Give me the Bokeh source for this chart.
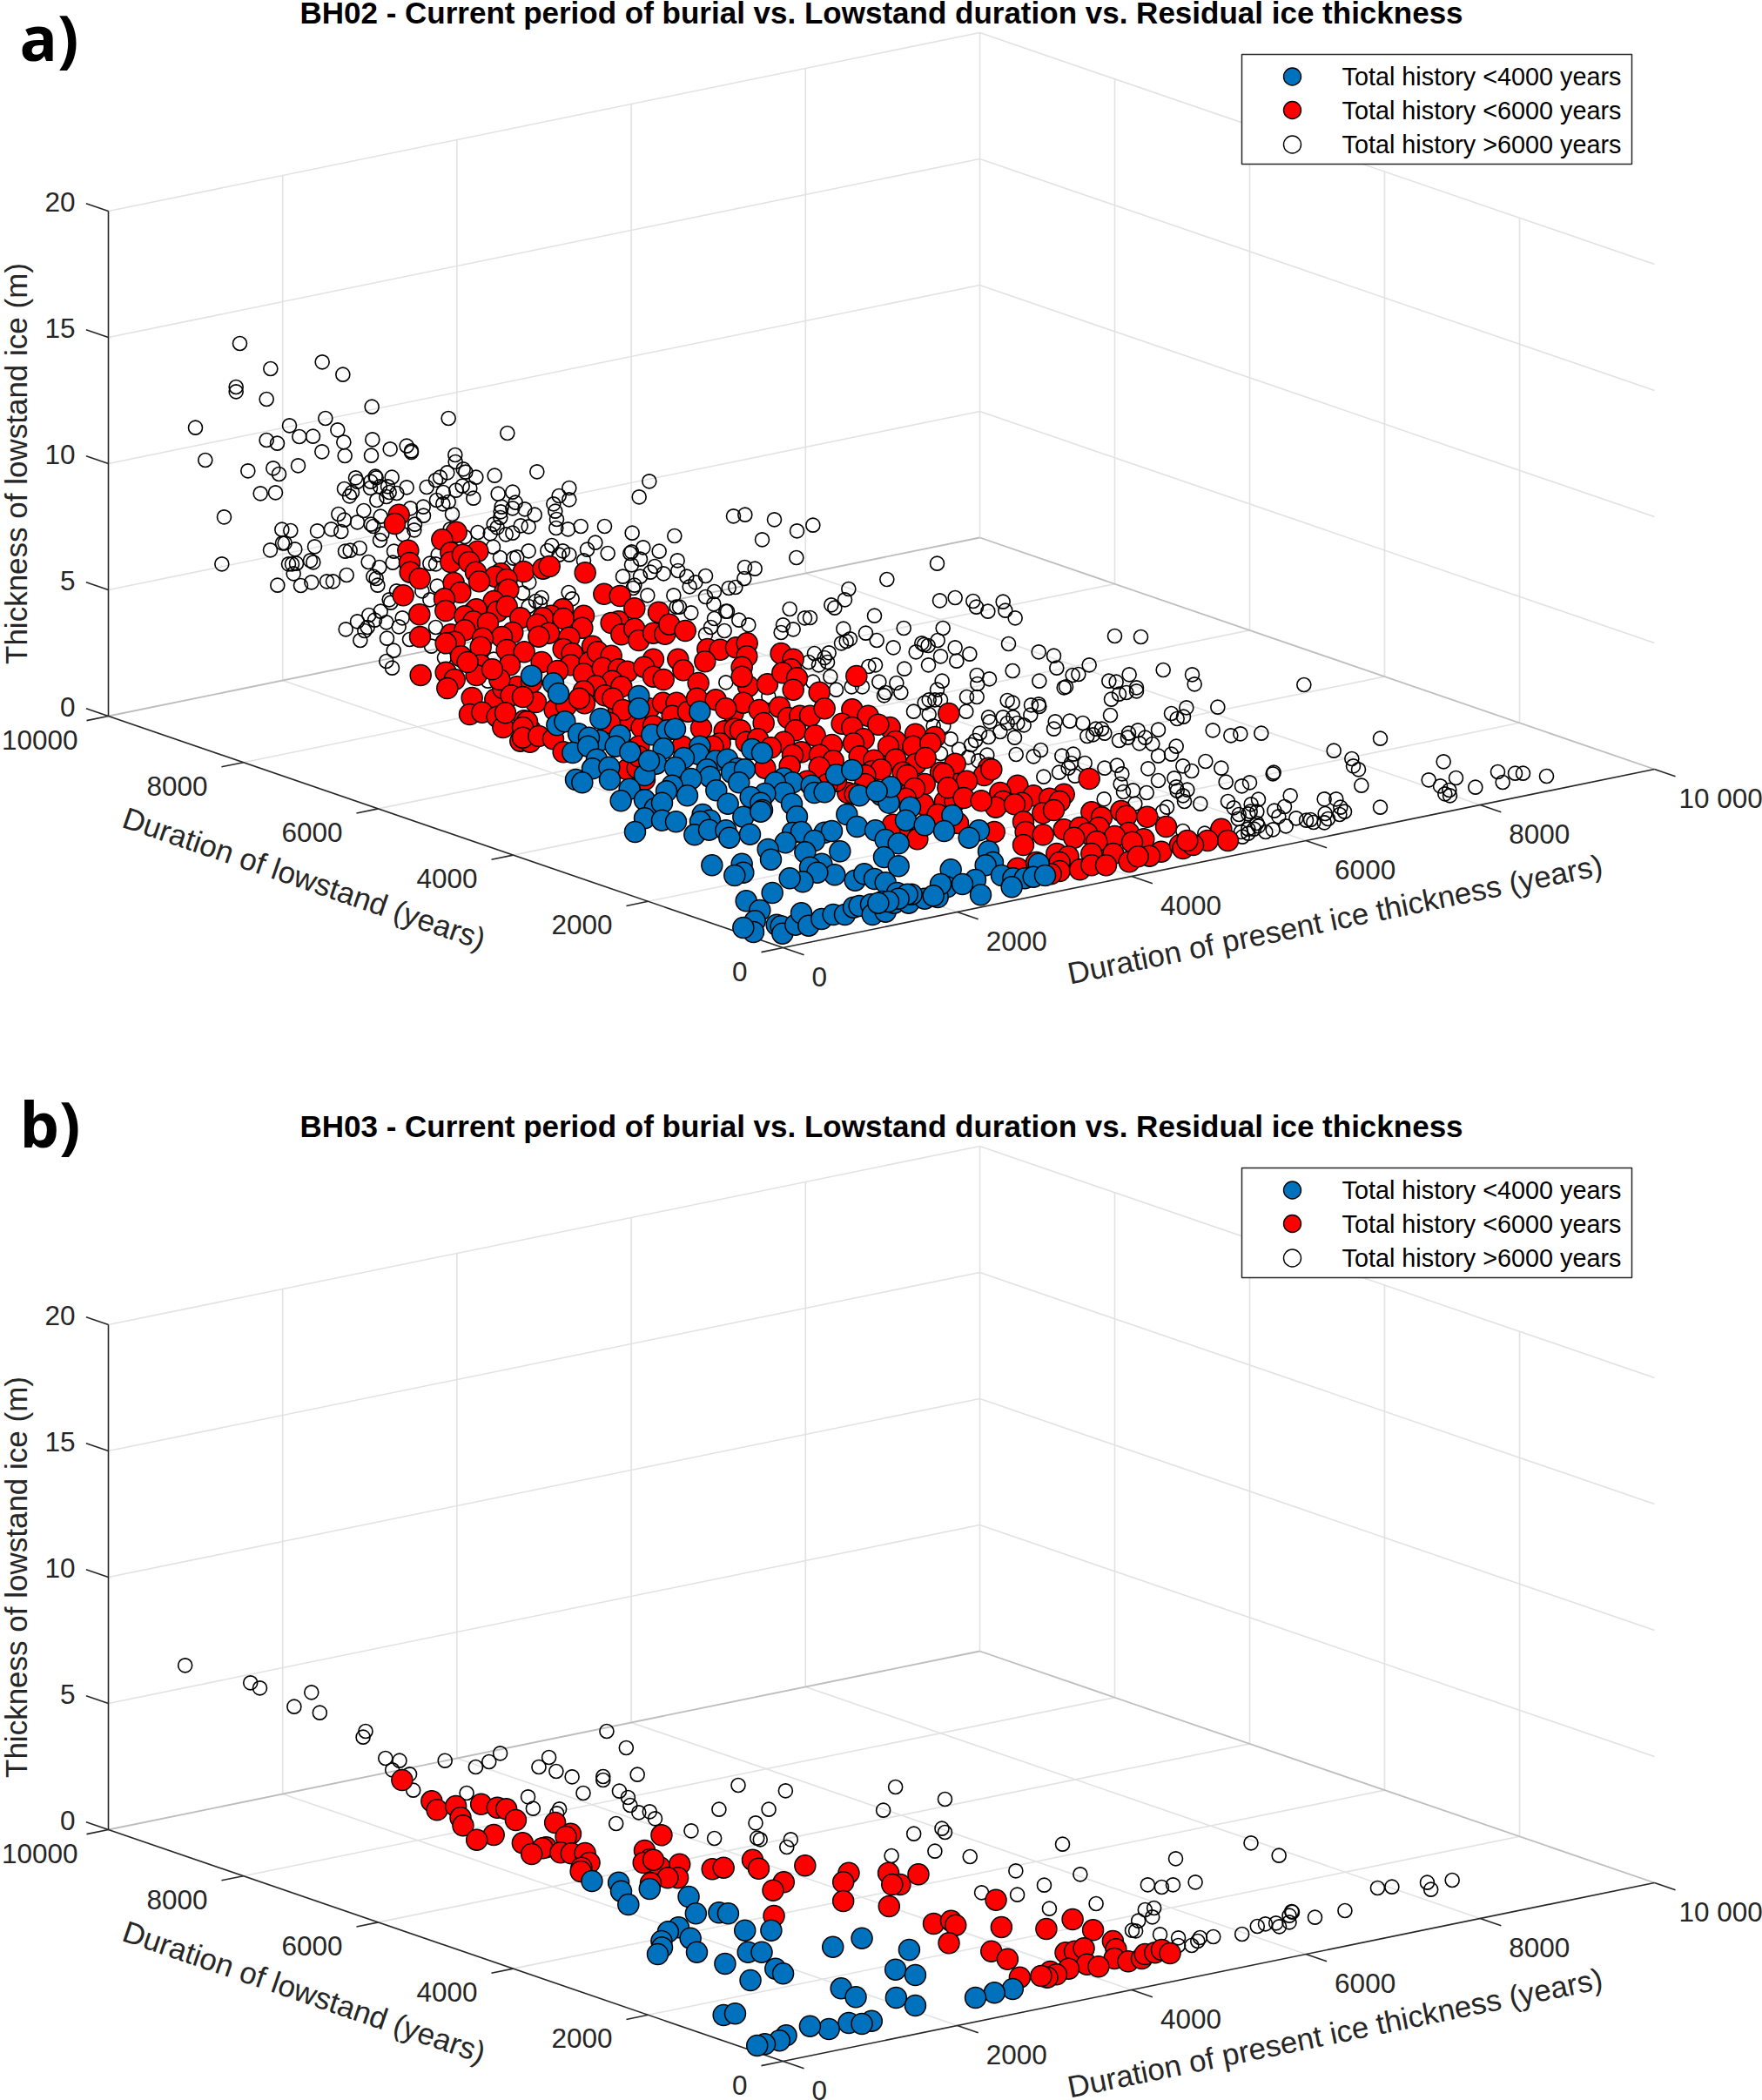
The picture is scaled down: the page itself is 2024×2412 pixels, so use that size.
from bokeh.plotting import figure
from bokeh.layouts import column
from bokeh.models import Range1d
from bokeh.core.properties import value
from bokeh.embed import file_html
from bokeh.resources import INLINE

# Axis ticks of the 3D box (value units)
x_ticks = [0, 2000, 4000, 6000, 8000, 10000]
x_tick_labels = ["0", "2000", "4000", "6000", "8000", "10 000"]
y_ticks = [0, 2000, 4000, 6000, 8000, 10000]
y_tick_labels = ["0", "2000", "4000", "6000", "8000", "10000"]
z_ticks = [0, 5, 10, 15, 20]
z_tick_labels = ["0", "5", "10", "15", "20"]
series_names = ["Total history <4000 years", "Total history <6000 years", "Total history >6000 years"]
titles = ["BH02 - Current period of burial vs. Lowstand duration vs. Residual ice thickness",
          "BH03 - Current period of burial vs. Lowstand duration vs. Residual ice thickness"]
panel_letters = ["a)", "b)"]

# The reference is a 3D view: a point's three values cannot be recovered from the picture,
# so points are kept as read in the plane of the view, as (origin_x, origin_y, scale_x, scale_y, readings).
a_white_1 = (180, 370, 3, 3, [(285,72),(391,159),(569,136),(640,179),(272,222),(272,238),(377,264),(740,290),(580,330),(1004,330),(132,362),(456,355),(622,370),(377,405),(414,416),(490,393),(537,392),(643,412),(742,403),(1207,381),(166,474),(568,445),(647,459),(738,458),(803,436),(860,425),(876,442),(876,447),(1027,456),(1028,480),(313,511),(400,502),(420,522),(486,493),(1309,514),(1163,527),(356,589),(408,586),(684,535),(690,548),(736,548),(752,530),(755,535),(809,533),(1000,517),(975,533),(960,543),(1055,505),(1063,515),(1099,533),(645,573),(672,585),(663,598),(735,570),(768,565),(795,565),(790,600),(800,585),(826,588),(860,568),(757,612),(929,567),(986,585),(1030,578),(1052,563),(1078,571),(1090,605),(1175,590),(1225,584),(1420,570),(1385,597),(1420,610),(963,612),(985,625),(1004,618),(1235,620),(1366,625),(1187,635),(1225,640),(1267,643),(1372,650),(1184,652),(1301,662),(231,670),(625,660),(712,648),(645,680),(873,640),(917,635),(918,665),(1017,660),(770,668),(690,688),(737,695),(745,702),(888,695),(886,715),(1183,672),(1377,678),(1160,695),(1172,706),(1253,700),(1280,703),(1375,708),(1416,712),(1460,702),(430,713),(460,717),(552,718),(600,712),(634,720),(775,728),(848,730),(1105,723),(1148,727),(1202,730),(1225,725),(440,760),(432,760),(543,772),(768,750),(1010,712),(1060,738),(390,784),(475,781),(698,777),(648,788),(665,785),(816,788),(1158,773),(1280,787),(1345,786),(1360,768),(1398,787),(1482,782),(1240,808),(1228,812),(1182,810),(1420,800),(1385,800),(223,832),(453,832),(465,832),(480,830),(528,820),(538,826),(728,825),(812,827),(766,843),(968,800),(940,830),(960,832),(470,865),(653,870),(745,875),(755,882),(760,905),(415,905),(495,906),(532,895),(585,892),(606,892),(965,908),(825,925),(913,925),(800,955),(805,965),(1260,932),(1282,895),(1418,930),(1430,952),(1325,948),(1305,960),(1320,968),(940,955),(1280,978),(770,995),(730,1008),(750,1025),(690,1030),(790,1033),(845,1018),(833,1048),(725,1050),(715,1062),(650,1057),(960,1050),(700,1095),(792,1088),(870,1092),(815,1130),(945,1115),(790,1167),(990,1155),(810,1190)])
a_white_2 = (600, 600, 3, 3, [(20,15),(113,18),(155,20),(200,15),(282,12),(377,35),(523,45),(825,58),(945,28),(1000,8),(943,120),(1428,140),(1255,195),(100,75),(80,95),(135,95),(155,110),(225,90),(250,68),(293,105),(375,100),(370,105),(415,85),(470,98),(405,125),(533,130),(210,130),(375,145),(455,150),(535,165),(345,185),(405,185),(440,170),(485,175),(630,183),(565,185),(595,205),(575,220),(765,153),(800,158),(763,192),(710,225),(733,222),(630,255),(660,237),(520,250),(430,250),(380,225),(385,215),(1123,228),(1110,265),(1437,268),(1490,258),(658,280),(540,290),(530,290),(580,310),(700,305),(705,305),(1063,283),(1075,293),(920,297),(1212,320),(660,330),(745,335),(778,352),(972,328),(990,327),(897,352),(1313,363),(1448,363),(648,360),(695,372),(630,385),(890,378),(932,367),(1105,365),(1182,380),(1098,415),(1115,408),(1128,400),(1220,405),(1430,405),(1277,430),(1355,445),(1375,415),(1383,420),(1440,460),(1490,430),(1005,450),(1055,448),(1040,465),(985,480),(1020,490),(1050,480),(1192,495),(1215,490),(1315,503),(1398,490),(1060,530),(1000,548),(1080,575),(1133,565),(1170,565),(1228,548),(1288,552),(1303,585),(1250,585),(1245,595),(1445,545),(1428,575),(1420,610),(1385,620),(1347,650),(1400,660),(1475,745),(1440,795),(847,598),(700,550)])
a_white_3 = (1000, 640, 3, 3, [(230,20),(55,75),(237,150),(290,137),(352,150),(363,170),(403,185),(455,152),(463,182),(497,208),(15,198),(113,242),(248,242),(20,285),(77,308),(155,323),(175,297),(197,303),(230,287),(285,305),(474,297),(340,332),(578,325),(630,338),(640,380),(840,270),(930,273),(242,337),(295,356),(198,370),(117,380),(17,370),(752,370),(488,390),(695,405),(715,402),(365,405),(408,418),(367,435),(1007,387),(1107,403),(1115,436),(1492,438),(890,403),(580,425),(820,425),(845,428),(672,445),(665,448),(915,448),(855,470),(880,465),(915,460),(25,430),(85,435),(45,470),(103,463),(245,425),(228,458),(200,490),(240,490),(330,480),(365,480),(470,492),(488,500),(828,488),(552,508),(578,505),(580,513),(147,527),(205,540),(328,530),(550,542),(825,543),(1195,515),(1087,517),(1035,537),(1055,555),(1077,548),(405,550),(410,565),(455,550),(490,550),(470,570),(505,570),(527,577),(635,565),(630,590),(685,563),(730,570),(1178,595),(1240,613),(1273,607),(1345,605),(215,580),(445,600),(495,620),(375,605),(405,618),(250,580),(275,622),(360,630),(345,645),(775,590),(795,590),(745,615),(765,610),(805,605),(888,605),(855,630),(885,620),(920,595),(925,640),(945,620),(970,642),(990,593),(303,660),(400,680),(585,663),(560,685),(500,678),(1052,650),(1035,677),(990,683),(1153,702),(658,683),(697,677),(690,708),(240,680),(335,688),(370,700),(737,708),(805,725),(848,716),(865,745),(955,727),(1075,718),(1105,735),(1207,725),(1388,740),(1385,745),(648,740),(680,725),(703,752),(595,755),(990,768),(1045,760),(1223,773),(860,780),(1052,790),(1305,775),(1278,787),(870,807),(903,802),(1090,800),(950,810),(1055,803),(1075,820),(1080,840),(803,832),(910,848),(1135,848),(1445,820),(1230,840),(1335,833),(1020,860),(1005,875),(1250,862),(1310,850),(1390,872),(1425,858),(1268,885),(1300,883),(1405,892),(1465,898),(1330,915),(1300,935),(1320,935),(1360,945),(1430,925),(1385,937),(1275,945),(1075,942),(1150,950),(1500,905),(1280,962),(1300,950)])
a_white_4 = (1400, 700, 3, 3, [(298,260),(395,485),(555,443),(457,513),(462,538),(480,550),(490,605),(145,426),(72,428),(42,434),(10,545),(190,556),(185,564),(22,594),(77,606),(106,595),(773,523),(816,579),(722,586),(762,607),(793,621),(795,640),(778,634),(883,611),(960,558),(1020,563),(1047,563),(977,594),(1128,573),(555,680),(245,640),(362,652),(403,652),(222,680),(192,693),(135,658),(115,670),(27,660),(50,685),(70,697),(130,695),(107,695),(65,720),(100,710),(208,712),(265,718),(365,702),(418,680),(432,695),(415,705),(375,720),(362,733),(315,723),(325,732),(230,746),(185,757),(160,765),(135,745),(120,758),(100,770),(75,768),(85,780),(130,735)])
a_white_5 = (680, 500, 3, 3, [(196,157),(161,211),(42,310),(137,335),(283,345),(486,277),(526,272),(627,289),(705,328),(761,303)])
a_white_6 = (420, 740, 3, 3, [(95,20),(70,58),(90,82),(225,8),(270,43),(440,50),(420,125)])

a_red_1 = (180, 370, 3, 3, [(833,662),(819,693),(1031,722),(982,748),(865,785),(1012,793),(1105,788),(870,828),(1012,825),(1053,800),(1075,825),(1098,860),(872,860),(905,882),(1263,858),(1330,848),(1352,840),(1185,865),(1165,875),(1205,885),(1110,892),(1475,862),(1022,897),(1045,930),(1198,928),(1210,920),(848,940),(990,952),(1160,960),(1173,995),(1205,978),(994,993),(904,1006),(1398,988),(1470,1010),(1090,998),(1100,988),(1060,1012),(1090,1030),(1140,1035),(1252,1018),(1358,1010),(1330,1018),(1400,1020),(1310,1040),(1350,1070),(1465,1052),(1012,1075),(1060,1060),(1225,1068),(1188,1083),(906,1083),(1315,1082),(1122,1088),(1025,1100),(995,1105),(1420,1085),(1115,1118),(1400,1125),(1430,1140),(1205,1128),(1265,1135),(1500,1115),(1047,1150),(1115,1180),(1325,1170),(1215,1180),(1425,1180),(1490,1170),(908,1215),(995,1205)])
a_red_2 = (420, 740, 3, 3, [(188,114),(278,98),(305,120),(280,150),(325,42),(397,75),(380,105),(365,183),(445,188),(357,240),(400,233),(452,248),(472,285),(472,150),(520,145),(495,70),(545,25),(545,262),(532,332),(565,335),(567,295),(585,198),(460,120),(305,0),(400,10),(480,20),(500,175),(480,235),(350,60),(435,85)])
a_red_3 = (600, 600, 3, 3, [(215,172),(92,152),(65,160),(10,168),(280,245),(335,252),(385,295),(468,308),(135,298),(97,320),(213,315),(330,340),(305,345),(0,330),(70,335),(205,362),(140,330),(90,380),(55,390),(160,395),(340,385),(385,365),(400,405),(450,380),(490,383),(505,350),(560,372),(140,435),(165,450),(160,490),(258,445),(305,458),(245,425),(220,480),(10,445),(65,480),(120,510),(210,520),(275,500),(330,505),(360,512),(535,470),(450,470),(418,497),(450,530),(485,540),(553,508),(637,435),(680,437),(735,430),(773,415),(772,460),(628,478),(755,497),(605,552),(777,563),(755,530),(843,556),(890,450),(932,470),(925,505),(895,517),(945,535),(932,575),(1150,528),(1022,584),(308,545),(252,562),(283,595),(340,565),(210,580),(30,550),(47,618),(0,600),(110,645),(150,630),(213,622),(195,605),(330,640),(310,605),(365,680),(345,645),(435,640),(483,620),(530,620),(515,665),(570,650),(600,605),(665,610),(725,655),(760,620),(700,640),(815,645),(830,690),(885,635),(915,672),(955,665),(990,665),(1040,640),(1135,643),(1190,665),(1100,692),(1468,657),(1265,705),(1225,695),(1135,705),(15,685),(0,705),(30,755),(0,740),(55,735),(105,745),(140,790),(300,690),(410,705),(450,700),(400,770),(615,708),(695,718),(730,710),(750,715),(940,715),(1007,733),(1353,728),(1420,738),(1175,745),(1140,760),(900,755),(770,755),(810,745),(855,775),(1065,765),(1285,753),(1260,770),(1345,770),(1405,760),(960,790),(930,800),(680,760),(655,770),(1160,805),(1210,818),(1285,815),(920,838),(1023,800),(1070,820),(1022,842),(1355,830),(1490,830),(835,845),(1205,855),(1235,850),(1180,870),(1310,860),(360,850),(395,845),(420,885),(980,890),(1440,860),(1385,900),(1340,920),(1180,900),(1120,930),(1145,935),(1455,960),(1380,970),(1430,1005),(1275,1040),(1335,1055),(1360,1090),(1495,900),(1490,960),(1080,890),(1050,900),(550,770),(400,805)])
a_red_4 = (1000, 640, 3, 3, [(267,537),(0,545),(65,585),(155,607),(225,615),(85,635),(205,640),(145,650),(60,650),(15,700),(85,695),(155,710),(188,690),(30,725),(125,750),(290,708),(405,725),(390,750),(415,730),(250,745),(230,740),(505,785),(330,770),(185,782),(150,795),(265,793),(445,810),(560,820),(665,815),(615,830),(455,840),(650,840),(430,860),(520,845),(495,850),(320,828),(253,842),(380,838),(180,850),(592,880),(630,870),(752,762),(760,877),(795,895),(862,873),(880,890),(952,893),(120,830),(525,910),(230,885),(300,915),(533,945),(75,920),(130,930),(593,955),(665,937),(1017,927),(1207,935),(1230,975),(1160,975),(425,945),(160,970),(525,990),(720,930),(785,930),(745,950),(700,965),(888,948),(840,960),(778,978),(940,970),(1000,1013),(1065,990),(1075,1002),(1110,990),(1090,975),(960,1028),(640,1020),(900,980),(680,1030),(760,1020),(835,1020),(890,1048),(920,1030),(505,1070),(570,1050),(650,1050),(650,1080),(720,1075),(760,1060),(810,1060),(620,1090)])

a_blue_1 = (420, 740, 3, 3, [(570,107)])
a_blue_2 = (600, 600, 3, 3, [(30,527),(105,553),(123,588),(400,597),(400,640),(610,650),(268,675),(118,697),(145,685),(192,727),(265,750),(228,740),(335,733),(445,730),(498,715),(525,710),(320,770),(370,790),(485,778),(610,770),(605,797),(172,792),(225,770),(255,815),(240,847),(298,842),(555,810),(460,830),(525,843),(420,870),(435,820),(790,780),(825,793),(665,820),(705,815),(740,847),(720,860),(765,850),(635,850),(645,875),(900,880),(930,895),(870,895),(900,930),(835,933),(995,905),(1005,930),(1040,928),(1080,868),(1135,852),(580,882),(745,895),(300,885),(183,885),(205,895),(368,917),(515,905),(495,925),(567,940),(667,922),(785,945),(820,965),(825,990),(707,968),(927,968),(1160,940),(1235,938),(1262,965),(1268,910),(1220,925),(1335,980),(1320,1025),(338,958),(420,955),(455,985),(480,965),(1117,1005),(1480,1008),(760,1013),(820,995),(945,1012),(420,1018),(480,1025),(528,1030),(620,1005),(645,1025),(612,1030),(1152,1047),(1385,1042),(1452,1062),(387,1065),(592,1075),(642,1058),(700,1060),(712,1085),(783,1073),(930,1068),(960,1065),(1040,1067),(1065,1062),(1005,1095),(905,1102),(845,1125),(855,1160),(1215,1060),(1250,1092),(1295,1105),(1245,1152),(1093,1132),(973,1135),(1030,1175),(990,1187),(1075,1213),(1295,1183),(652,1180),(755,1175),(760,1205),(730,1215),(1015,1205),(965,1237),(920,1225),(1145,1232),(1177,1210),(1212,1227),(1250,1240),(1475,1195),(1462,1255),(1430,1290),(860,1275),(770,1303),(817,1335),(800,1372),(795,1410),(760,1395),(875,1385),(890,1390),(895,1415),(940,1385),(960,1345),(985,1388),(1030,1365),(1070,1350),(1110,1350),(1140,1325),(1160,1320),(1200,1315),(1205,1350),(1250,1340),(1280,1310),(1240,1305),(1330,1310),(1385,1295),(1290,1275),(1340,1280)])
a_blue_3 = (1000, 640, 3, 3, [(68,790),(33,818),(60,850),(135,860),(118,905),(283,887),(185,922),(250,942),(372,940),(338,965),(20,940),(50,975),(95,985),(45,1030),(95,1065),(405,1012),(420,1050),(395,1060),(578,1055),(15,1105),(50,1120),(275,1075),(450,1095),(490,1105),(530,1105),(560,1100),(600,1095),(485,1135),(360,1110),(315,1125),(262,1135),(240,1125),(378,1162),(185,1175),(215,1165),(125,1160),(95,1175),(60,1185),(25,1190)])

# panel b readings carry the panel's vertical offset of 1280 already removed
b_white_1 = (150, 600, 2.412, 3, [(150,100),(331,160),(357,178),(452,242),(500,193),(523,263),(650,327),(643,347),(705,420),(744,428),(724,460),(772,475),(782,530),(870,428),(955,450),(992,432),(1023,403),(1318,327),(1372,384),(1158,417),(1130,450),(1178,465),(1222,484),(1403,476),(1308,483),(1308,495),(1253,540),(1353,533),(930,540),(1100,553),(1114,593),(1187,595),(1180,610),(1377,555),(1383,582),(1407,607),(1437,604),(1452,628),(1344,645),(1552,670)])
b_white_2 = (750, 670, 2.851, 3, [(278,303),(433,322),(215,386),(378,386),(335,433),(8,420),(125,458),(200,486),(340,485),(350,490),(450,490),(437,516),(793,309),(955,351),(753,389),(853,470),(945,452),(955,465),(922,530),(780,546),(1037,549),(1340,506),(1187,598),(1398,610),(1280,647),(1075,673),(1192,680),(1297,728),(1450,711),(1568,803)])
b_white_3 = (1200, 670, 2.613, 3, [(52,506),(392,556),(618,502),(702,545),(106,610),(308,646),(350,654),(384,646),(451,637),(998,657),(1041,653),(1147,638),(1158,662),(1222,630),(152,711),(15,728),(300,732),(327,726),(322,757),(280,770),(272,805),(345,817),(400,829),(400,855),(440,855),(458,840),(465,828),(505,825),(591,816),(637,789),(661,781),(693,778),(703,790),(733,775),(733,752),(742,740),(740,738),(810,758),(900,735)])
b_red_1 = (150, 600, 2.412, 3, [(751,495),(833,568),(848,598),(900,585),(913,625),(920,652),(970,578),(1015,590),(1040,595),(1066,633),(1175,642),(1005,684),(958,701),(1218,680),(1205,690),(1085,712),(1150,727),(1140,730),(1110,750),(1190,745),(1220,748),(1258,747),(1270,780),(1248,797),(1470,685),(1423,738),(1438,768),(1420,780),(1465,795),(1520,785),(1515,832),(1487,832),(1440,850)])
b_red_2 = (640, 870, 3, 3, [(325,40),(380,22),(410,25),(80,0)])
b_red_3 = (750, 670, 2.851, 3, [(27,475),(0,560),(87,575),(20,590),(45,622),(80,622),(193,592),(230,587),(325,560),(345,590),(497,580),(427,637),(392,665),(395,753),(640,605),(622,637),(622,702),(770,605),(808,645),(782,645),(868,610),(772,720),(918,780),(975,770),(990,785),(968,847),(1122,698),(1140,792),(1287,798),(1373,765),(1440,802),(1107,875),(1160,902),(1200,965),(1350,880),(1380,875),(1410,865),(1505,840),(1515,868),(1510,900),(1555,910),(1420,920),(1458,928),(1360,935),(1300,945),(1320,955),(1290,965),(1270,960)])
b_red_4 = (1200, 670, 2.613, 3, [(82,765),(143,802),(0,800),(205,838),(212,865),(120,865),(60,880),(90,873),(130,915),(160,925),(205,895),(250,908),(290,900),(300,885),(330,880),(350,870),(375,882),(70,935),(30,960),(0,965)])
b_blue_1 = (150, 600, 2.412, 3, [(1277,843),(1351,848),(1358,878),(1378,924),(1437,870),(1545,897),(1565,955),(1517,1003),(1488,1018),(1550,1040),(1470,1050)])
b_blue_2 = (640, 870, 3, 3, [(118,33),(210,35),(218,67),(245,113),(318,60),(450,87),(475,145),(418,193),(380,208),(455,235),(360,262),(345,285),(480,278)])
b_blue_3 = (750, 670, 2.851, 3, [(117,687),(145,745),(215,742),(245,745),(300,803),(386,803),(83,793),(48,810),(122,835),(148,878),(30,860),(17,885),(235,918),(310,878),(355,878),(400,935),(425,952),(318,975),(683,830),(588,860),(838,870),(793,938),(858,957),(615,1003),(663,1033),(795,1035),(858,1062),(1177,1005),(1117,1018),(1055,1035),(230,1095),(268,1090),(715,1115),(640,1122),(683,1125),(575,1143),(513,1133),(435,1165),(413,1183),(365,1195),(340,1200)])

BLUE, RED, INK, GRID, EDGE = "#0072BD", "#FF0000", "#262626", "#E2E2E2", "#BDBDBD"
FONT = value("Liberation Sans")


def merge(*groups):
    """Join readings of overlapping views, keeping one copy of a point seen in two of them."""
    done = []
    for x0, y0, sx, sy, pts in groups:
        new = [(x0 + a / sx, y0 + b / sy) for a, b in pts]
        keep = [n for n in new if all((n[0] - d[0]) ** 2 + (n[1] - d[1]) ** 2 > 12 for d in done)]
        done += keep
    return [p[0] for p in done], [p[1] for p in done]


def view(x, y, z):
    """Parallel projection of the MATLAB-style box."""
    return (899 + 1001 * x / 10000 - 775 * y / 10000,
            1088 - 205 * x / 10000 - 266 * y / 10000 - 29.0 * z)


def seg(p, pairs, color, width):
    a = [view(*q[0]) for q in pairs]
    b = [view(*q[1]) for q in pairs]
    p.segment([s[0] for s in a], [s[1] for s in a], [e[0] for e in b], [e[1] for e in b],
              line_color=color, line_width=width)


def labels(p, pts, texts, align, size, color=INK, angle=0, style="normal", font=FONT):
    p.text([q[0] for q in pts], [q[1] for q in pts], text=texts, text_font=font, text_font_size=size,
           text_color=color, text_align=align, text_baseline="middle", angle=angle, text_font_style=style)


def panel(y_top, y_bottom, height, idx, white, red, blue):
    p = figure(width=2024, height=height, x_range=Range1d(0, 2024), y_range=Range1d(y_bottom, y_top),
               output_backend="svg", toolbar_location=None, min_border=0, outline_line_color=None)
    p.axis.visible = False
    p.grid.visible = False

    X, Y, Z = 10000, 10000, z_ticks[-1]
    grid = []
    for t in x_ticks[1:-1]:
        grid += [((t, 0, 0), (t, Y, 0)), ((t, Y, 0), (t, Y, Z))]
    for t in y_ticks[1:-1]:
        grid += [((0, t, 0), (X, t, 0)), ((X, t, 0), (X, t, Z))]
    for t in z_ticks[1:]:
        grid += [((0, Y, t), (X, Y, t)), ((X, Y, t), (X, 0, t))]
    grid += [((X, Y, 0), (X, Y, Z))]
    seg(p, grid, GRID, 1.6)
    seg(p, [((0, Y, 0), (X, Y, 0)), ((X, Y, 0), (X, 0, 0))], EDGE, 1.8)

    axes = [((0, 0, 0), (X, 0, 0)), ((0, 0, 0), (0, Y, 0)), ((0, Y, 0), (0, Y, Z))]
    axes += [((t, 0, 0), (t, -310, 0)) for t in x_ticks]
    axes += [((0, t, 0), (-250, t, 0)) for t in y_ticks]
    axes += [((0, Y, t), (0, Y + 330, t)) for t in z_ticks]
    seg(p, axes, INK, 1.6)

    labels(p, [(view(t, 0, 0)[0] + (33 if t < 10000 else 28), view(t, 0, 0)[1] + 33) for t in x_ticks],
           x_tick_labels, "left", "31.5px")
    labels(p, [(view(0, t, 0)[0] - (41 if t < 10000 else 35), view(0, t, 0)[1] + 27) for t in y_ticks],
           y_tick_labels, "right", "31.5px")
    labels(p, [(view(0, Y, t)[0] - 38, view(0, Y, t)[1] - 11) for t in z_ticks], z_tick_labels, "right", "31.5px")

    labels(p, [(18, 532)], ["Thickness of lowstand ice (m)"], "center", "35px", angle=1.5708)
    labels(p, [(349, 1008)], ["Duration of lowstand (years)"], "center", "35px", angle=-0.33)
    labels(p, [(1533, 1055)], ["Duration of present ice thickness (years)"], "center", "35px", angle=0.202)
    labels(p, [(1012, 14)], [titles[idx]], "center", "35px", color="#000000", style="bold")
    labels(p, [(22, 41 if idx == 0 else 10)], [panel_letters[idx]], "left", "72px", color="#000000",
           style="bold", font=value("Open Sans"))

    p.scatter(*white, size=16, fill_color=None, line_color="#000000", line_width=1.6)
    p.scatter(*red, size=24, fill_color=RED, line_color="#000000", line_width=1.5)
    p.scatter(*blue, size=24, fill_color=BLUE, line_color="#000000", line_width=1.5)

    # key: Bokeh's Legend ties swatch size to row height, so it is drawn with glyphs to get both right
    rows = [87.5, 126, 165.5]
    p.quad(left=[1426], right=[1874], top=[62], bottom=[188], fill_color="white", line_color=INK, line_width=1.5)
    p.scatter([1484] * 3, rows, size=20, fill_color=[BLUE, RED, "white"], line_color="#000000", line_width=1.4)
    labels(p, [(1541, r) for r in rows], series_names, "left", "28.8px", color="#000000")
    return p


pa = panel(0, 1200, 1200, 0, merge(a_white_1, a_white_2, a_white_3, a_white_4, a_white_5, a_white_6),
           merge(a_red_1, a_red_2, a_red_3, a_red_4), merge(a_blue_1, a_blue_2, a_blue_3))
pb = panel(-79, 1133, 1212, 1, merge(b_white_1, b_white_2, b_white_3),
           merge(b_red_1, b_red_2, b_red_3, b_red_4), merge(b_blue_1, b_blue_2, b_blue_3))

page = column(pa, pb, spacing=0)
open("out.html", "w").write(file_html(page, INLINE))
